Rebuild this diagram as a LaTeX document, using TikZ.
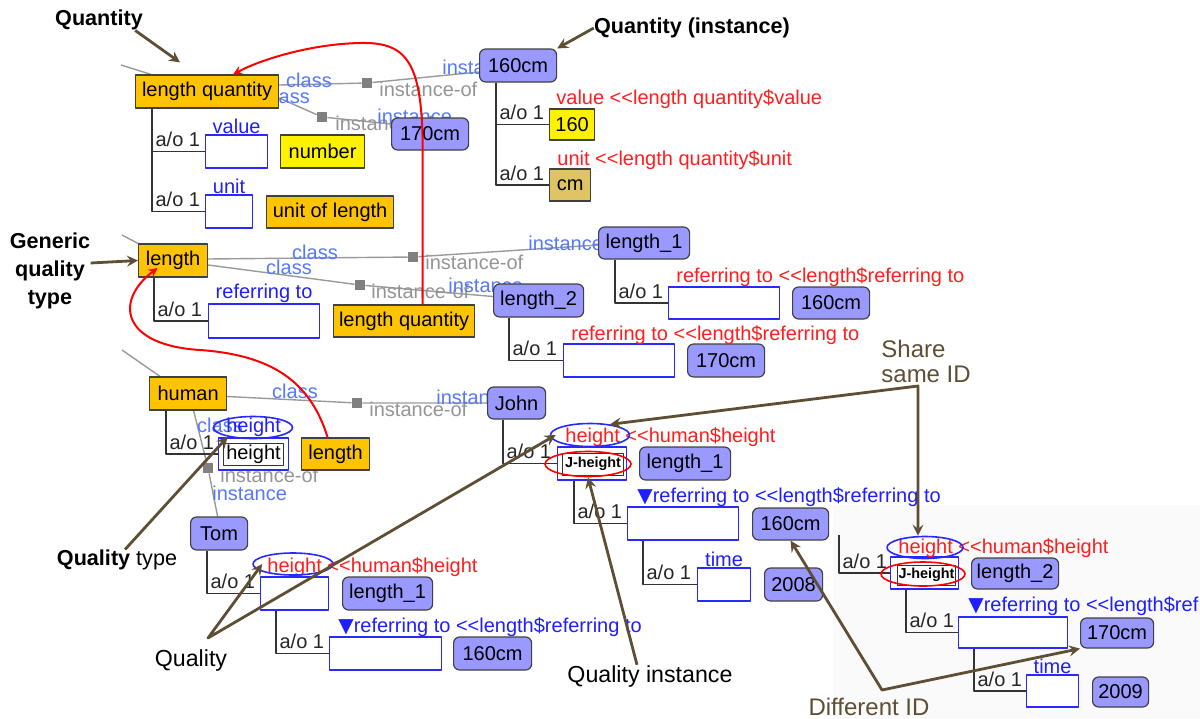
\documentclass[tikz,border=0pt]{standalone}
\usepackage{fontspec}
\setmainfont{Liberation Sans}
\newfontfamily\symfont{DejaVu Sans}
\usepackage{tikz}
\usetikzlibrary{arrows, positioning, shapes.geometric}
\definecolor{clsorange}{RGB}{255, 196, 0}
\definecolor{instblue}{RGB}{153, 153, 255}
\definecolor{slotblue}{RGB}{40, 40, 255}
\definecolor{txtblue}{RGB}{30, 30, 255}
\definecolor{lblblue}{RGB}{85, 120, 255}
\definecolor{txtred}{RGB}{255, 30, 30}
\definecolor{cmtan}{RGB}{222, 196, 100}
\definecolor{notebrown}{RGB}{94, 78, 52}
\newcommand{\dtri}{{\symfont ▼}}
\newcommand{\dlt}{<{}<}
\pgfdeclarelayer{back}
\pgfdeclarelayer{bg}
\pgfsetlayers{back,bg,main}

\begin{document}
\begin{tikzpicture}[
                x = 0.5pt, y = -0.5pt, % one unit = one pixel of the screenshot
                > = stealth, % arrow head style
                line join = round,
                font = \fontsize{10}{12}\selectfont
                ]
                \tikzstyle{cls}=[draw = black!75, fill = clsorange, line width = 0.6pt,
                    minimum height = 16.5pt, inner sep = 0pt, anchor = west]
                \tikzstyle{inst}=[cls, fill = instblue, rounded corners = 3pt]
                \tikzstyle{slot}=[draw = slotblue, fill = white, line width = 0.6pt,
                    minimum height = 16.5pt, inner sep = 0pt, anchor = west]
                \tikzstyle{idbox}=[draw = black!80, fill = white, line width = 0.5pt,
                    inner sep = 0pt, anchor = west, font = \fontsize{7.2}{8}\selectfont\bfseries]
                \tikzstyle{hl}=[ellipse, draw, line width = 0.8pt, inner sep = 0pt]
                \tikzstyle{slotlbl}=[anchor = south, inner sep = 0.4pt, text = txtblue]
                \tikzstyle{redlbl}=[anchor = west, inner sep = 0pt, text = txtred]
                \tikzstyle{reflbl}=[anchor = west, inner sep = 0pt, text = txtblue]
                \tikzstyle{clslbl}=[inner sep = 0pt, text = lblblue]
                \tikzstyle{instlbl}=[anchor = west, inner sep = 0pt, text = lblblue]
                \tikzstyle{iolbl}=[anchor = west, inner sep = 0pt, text = black!42]
                \tikzstyle{sq}=[fill = black!50, minimum size = 5pt, inner sep = 0pt]
                \tikzstyle{isa}=[draw = black!40, line width = 0.7pt]
                \tikzstyle{tree}=[draw = black!80, line width = 0.6pt]
                \tikzstyle{aol}=[pos = 0.5, anchor = base west, xshift = 1.5pt, yshift = 2.5pt,
                    inner sep = 0pt, text = black!85]
                \tikzstyle{redarr}=[draw = red, line width = 1pt, ->]
                \tikzstyle{note}=[draw = notebrown, line width = 1.4pt]
                \tikzstyle{annb}=[inner sep = 0pt, font = \fontsize{10.8}{14.2}\selectfont\bfseries]
                \tikzstyle{ann}=[inner sep = 0pt, font = \fontsize{11.6}{13.5}\selectfont]

                \useasboundingbox (0,0) rectangle (1200,718);

                % second screenshot pasted at the lower right
                \begin{pgfonlayer}{back}
                    \fill[black!2] (833,505) rectangle (1200,718);
                \end{pgfonlayer}

                % classes
                \node[cls, minimum width = 71.5pt] (lq) at (135,91.5) {length quantity};
                \node[cls, fill = yellow, minimum width = 42pt] (nmb) at (280,151.5) {number};
                \node[cls, minimum width = 63.5pt, minimum height = 16pt] (uol) at (266,212) {unit of length};
                \node[cls, minimum width = 34.5pt] (len) at (138,260.5) {length};
                \node[cls, minimum width = 70.5pt, minimum height = 16pt] (lq2) at (333,321) {length quantity};
                \node[cls, minimum width = 38.5pt] (hum) at (149,393.5) {human};
                \node[cls, minimum width = 34pt, minimum height = 16pt] (len2) at (301,454) {length};

                % instances
                \node[inst, minimum width = 38.5pt] (q160) at (479,65.5) {160cm};
                \node[inst, minimum width = 38.5pt, minimum height = 16pt] (q170) at (391,134) {170cm};
                \node[cls, fill = yellow, minimum width = 22.5pt, minimum height = 15.5pt] (v160) at (549,124.5) {160};
                \node[cls, fill = cmtan, minimum width = 20.5pt, minimum height = 16pt] (vcm) at (549,185) {cm};
                \node[inst, minimum width = 45.5pt, minimum height = 16pt] (l1) at (598,243) {length\_1};
                \node[inst, minimum width = 38.5pt, minimum height = 16pt] (l1v) at (792,303) {160cm};
                \node[inst, minimum width = 45pt] (l2) at (493,300.5) {length\_2};
                \node[inst, minimum width = 38.5pt] (l2v) at (687,360.5) {170cm};
                \node[inst, minimum width = 29pt, minimum height = 16pt] (john) at (487,403) {John};
                \node[inst, minimum width = 45.5pt] (jl1) at (639,463.5) {length\_1};
                \node[inst, minimum width = 38pt, minimum height = 16pt] (j160) at (752,524) {160cm};
                \node[inst, minimum width = 29pt] (j2008) at (764,584.5) {2008};
                \node[inst, minimum width = 28.5pt] (tom) at (190,533.5) {Tom};
                \node[inst, minimum width = 45pt] (tl1) at (342,593.5) {length\_1};
                \node[inst, minimum width = 39pt] (t160) at (453,653.5) {160cm};
                \node[inst, minimum width = 43.5pt, minimum height = 15.5pt] (kl2) at (971,573.5) {length\_2};
                \node[inst, minimum width = 36.5pt, minimum height = 15pt] (k170) at (1080,633) {170cm};
                \node[inst, minimum width = 28pt, minimum height = 15pt] (k2009) at (1092,692) {2009};

                % slots
                \node[slot, minimum width = 31pt] (sval) at (205,151.5) {};
                \node[slot, minimum width = 23.5pt] (sunit) at (205,211.5) {};
                \node[slot, minimum width = 55.5pt, minimum height = 17pt] (sref) at (208,321) {};
                \node[slot, minimum width = 55.5pt, minimum height = 16pt] (l1s) at (668,303) {};
                \node[slot, minimum width = 55.5pt] (l2s) at (563,360.5) {};
                \node[slot, minimum width = 35pt, minimum height = 16pt] (hs) at (218,454) {};
                \node[slot, minimum width = 34pt] (ts) at (260,593.5) {};
                \node[slot, minimum width = 56pt] (tsr) at (329,653.5) {};
                \node[slot, minimum width = 34.5pt] (js) at (557,463.5) {};
                \node[slot, minimum width = 55.5pt] (jsr) at (627,523.5) {};
                \node[slot, minimum width = 26.5pt] (jst) at (697,584.5) {};
                \node[slot, minimum width = 34pt, minimum height = 16pt] (ks) at (890,573) {};
                \node[slot, minimum width = 54.5pt, minimum height = 15.5pt] (ksr) at (958,632.5) {};
                \node[slot, minimum width = 26pt, minimum height = 16pt] (kst) at (1026,691) {};

                \node[idbox, font = \fontsize{10}{12}\selectfont, minimum width = 30pt, minimum height = 11pt] (hid) at (223,454) {height};
                \node[idbox, minimum width = 30.5pt, minimum height = 11pt] (jid) at (562,464) {J-height};
                \node[idbox, minimum width = 29pt, minimum height = 10pt] (kid) at (897,575) {J-height};

                % slot names
                \node[slotlbl] (svall) at (sval.north) {value};
                \node[slotlbl] (sunitl) at (sunit.north) {unit};
                \node[slotlbl] (srefl) at (sref.north) {referring to};
                \node[slotlbl] (hsl) at (hs.north) {height};
                \node[slotlbl] (jstl) at (jst.north) {time};
                \node[slotlbl] (kstl) at (kst.north) {time};
                \node[redlbl] (rv) at (556,99.5) {value \dlt length quantity\$value};
                \node[redlbl] (ru) at (557,160) {unit \dlt length quantity\$unit};
                \node[redlbl] (rr1) at (676,277) {referring to \dlt length\$referring to};
                \node[redlbl] (rr2) at (571,335) {referring to \dlt length\$referring to};
                \node[redlbl] (rth) at (267,567) {height \dlt human\$height};
                \node[redlbl] (rjh) at (565,437) {height \dlt human\$height};
                \node[redlbl] (rkh) at (898,548) {height \dlt human\$height};
                \node[reflbl] (bt) at (338,627) {\dtri referring to \dlt length\$referring to};
                \node[reflbl] (bj) at (637,497) {\dtri referring to \dlt length\$referring to};
                \node[reflbl] (bk) at (968,606) {\dtri referring to \dlt length\$ref};

                % instance-of squares
                \node[sq] (s1) at (367,83) {};
                \node[sq] (s2) at (322,117) {};
                \node[sq] (s3) at (413,257) {};
                \node[sq] (s4) at (360,285) {};
                \node[sq] (s5) at (357,403) {};
                \node[sq] (s6) at (208,468) {};

                \coordinate (lqp) at (121,65);
                \coordinate (lenp) at (122,235);
                \coordinate (hump) at (122,350);
                \coordinate (kp) at (839,535);

                \begin{pgfonlayer}{bg}
                    \draw[isa] (lqp) -- ([xshift = 8pt]lq.north west);
                    \draw[isa] (lenp) -- (len.north west);
                    \draw[isa] (hump) -- ([xshift = 5.5pt]hum.north west);

                    \draw[isa] ([yshift = 3.25pt]lq.east) -- (s1) -- ([yshift = -3.25pt]q160.west);
                    \draw[isa] ([yshift = -3.25pt]lq.east) -- (s2) -- ([yshift = 5pt]q170.west);
                    \node[clslbl] (c1) at (309,80) {class};
                    \node[clslbl] (c2) at (287,96) {class};
                    \node[iolbl] (io1) at (379,89) {instance-of};
                    \node[instlbl] (in1) at (442,67) {instance};
                    \node[iolbl] (io2) at (335,123) {instance-of};
                    \node[instlbl] (in2) at (377,116) {instance};

                    \draw[isa] ([yshift = 0.75pt]len.east) -- (s3) -- ([yshift = -1pt]l1.west);
                    \draw[isa] ([yshift = -2.25pt]len.east) -- (s4) -- ([yshift = 2pt]l2.west);
                    \node[clslbl] (c3) at (315,252) {class};
                    \node[clslbl] (c4) at (289,267) {class};
                    \node[iolbl] (io3) at (425,262) {instance-of};
                    \node[instlbl] (in3) at (528,243) {instance};
                    \node[iolbl] (io4) at (371,291) {instance-of};
                    \node[instlbl] (in4) at (448,285) {instance};

                    \draw[isa] ([yshift = -1.5pt]hum.east) -- (s5) -- (john.west);
                    \node[clslbl] (c5) at (295,391) {class};
                    \node[iolbl] (io5) at (369,409) {instance-of};
                    \node[instlbl] (in5) at (436,397) {instance};

                    \draw[isa] ([xshift = 2.75pt]hum.south) -- (s6) -- ([xshift = -0.75pt]tom.north);
                    \node[clslbl] (c6) at (220,425) {class};
                    \node[iolbl] (io6) at (220,475) {instance-of};
                    \node[instlbl] (in6) at (212,493) {instance};
                \end{pgfonlayer}

                % part-of trees
                \draw[tree] ([xshift = 8.5pt]lq.south west) |- node[aol] {a/o 1} (sval.west);
                \draw[tree] ([xshift = 8.5pt]lq.south west) |- node[aol] {a/o 1} (sunit.west);
                \draw[tree] ([xshift = 8.5pt]q160.south west) |- node[aol] {a/o 1} (v160.west);
                \draw[tree] ([xshift = 8.5pt]q160.south west) |- node[aol] {a/o 1} (vcm.west);
                \draw[tree] ([xshift = 8pt]len.south west) |- node[aol] {a/o 1} (sref.west);
                \draw[tree] ([xshift = 8.5pt]l1.south west) |- node[aol] {a/o 1} (l1s.west);
                \draw[tree] ([xshift = 8pt]l2.south west) |- node[aol] {a/o 1} (l2s.west);
                \draw[tree] ([xshift = 8.5pt]hum.south west) |- node[aol] {a/o 1} (hs.west);
                \draw[tree] ([xshift = 8.5pt]tom.south west) |- node[aol] {a/o 1} (ts.west);
                \draw[tree] ([xshift = 8pt]ts.south west) |- node[aol] {a/o 1} (tsr.west);
                \draw[tree] ([xshift = 8pt]john.south west) |- node[aol] {a/o 1} (js.west);
                \draw[tree] ([xshift = 8.5pt]js.south west) |- node[aol] {a/o 1} (jsr.west);
                \draw[tree] ([xshift = 8pt]jsr.south west) |- node[aol] {a/o 1} (jst.west);
                \draw[tree] (kp) |- node[aol] {a/o 1} (ks.west);
                \draw[tree] ([xshift = 8pt]ks.south west) |- node[aol] {a/o 1} (ksr.west);
                \draw[tree] ([xshift = 8pt]ksr.south west) |- node[aol] {a/o 1} (kst.west);

                % highlight ellipses
                \node[hl, draw = slotblue, minimum width = 39.5pt, minimum height = 11pt] (eh) at (253,427.5) {};
                \node[hl, draw = slotblue, minimum width = 40pt, minimum height = 11pt] (eth) at (293,564) {};
                \node[hl, draw = slotblue, minimum width = 39.5pt, minimum height = 11.5pt] (ejh) at (590,435) {};
                \node[hl, draw = red, minimum width = 43pt, minimum height = 12.5pt] (ejr) at (588,464) {};
                \node[hl, draw = slotblue, minimum width = 38pt, minimum height = 11pt] (ekh) at (925,547.5) {};
                \node[hl, draw = red, minimum width = 42pt, minimum height = 12pt] (ekr) at (923,574) {};

                % value type links
                \draw[redarr] ([xshift = 9.25pt]lq2.north) -- ++(0,-165)
                    .. controls (421,60) and (405,42) .. (360,43)
                    .. controls (310,44) and (260,60) .. ([xshift = 13pt]lq.north);
                \draw[redarr] ([xshift = -4pt]len2.north)
                    .. controls (310,380) and (270,355) .. (200,350)
                    .. controls (120,345) and (115,300) .. ([shift = {(-7.75pt,-3.75pt)}]len.center);

                % annotations
                \node[annb] (qlbl) at (99,20) {Quantity};
                \node[annb] (qilbl) at (692,28) {Quantity (instance)};
                \node[annb, align = center] (gqt) at (50,271) {Generic\\quality\\type};
                \node[annb] (qtl) at (117,560) {Quality \mdseries type};
                \node[ann] (ql) at (191,660) {Quality};
                \node[ann] (qil) at (650,676) {Quality instance};
                \node[ann, text = notebrown, align = left, anchor = west, font = \fontsize{12}{12.5}\selectfont] (ssid) at (881,361) {Share\\same ID};
                \node[ann, text = notebrown, font = \fontsize{12}{14}\selectfont] (dil) at (869,707) {Different ID};

                \coordinate (qsrc) at (208,638);
                \coordinate (sc) at (918,386);
                \coordinate (dc) at (882,690);

                \draw[note, ->] ([xshift = -4pt]qlbl.south east) -- ([shift = {(22.5pt,6pt)}]lq.north west);
                \draw[note, ->] (qilbl.west) -- (q160.north east);
                \draw[note, ->] ([yshift = 4pt]gqt.east) -- (len.west);
                \draw[note, ->] ([xshift = 4pt]qtl.north) -- (eh.200);
                \draw[note, <->] ([xshift = 5pt]eth.west) -- (qsrc) -- ([xshift = 3pt]ejh.west);
                \draw[note, ->] ([xshift = -6.5pt]qil.north) -- (ejr.south);
                \draw[note, <->] (ejh.28) -- (sc) -- (sc |- ekh.north);
                \draw[note, <->] (j160.south) -- (dc) -- (k170.south west);
            \end{tikzpicture}
\end{document}
